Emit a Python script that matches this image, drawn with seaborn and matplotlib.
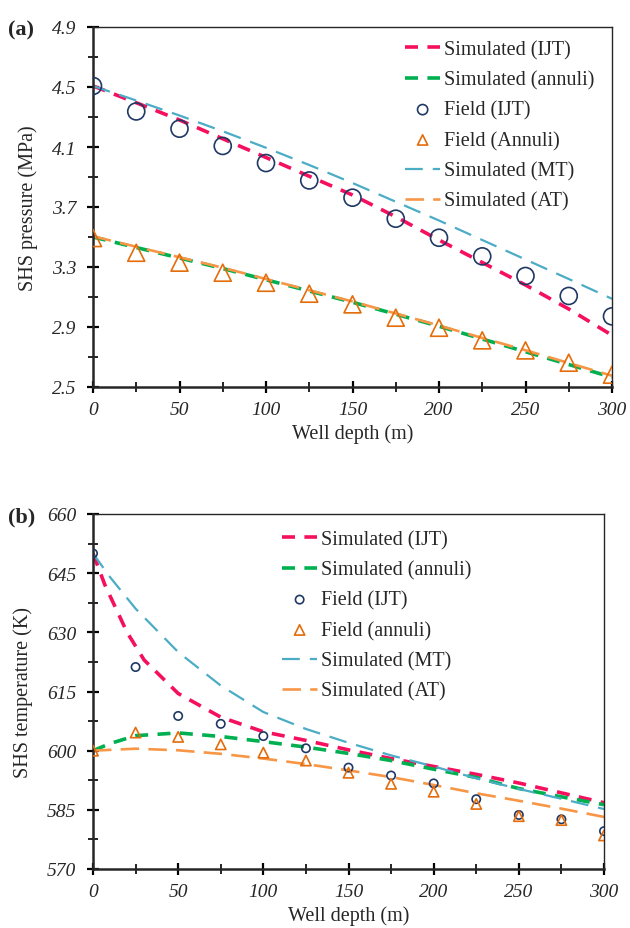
import numpy as np
import pandas as pd
import matplotlib
matplotlib.use("Agg")
import matplotlib.pyplot as plt
from matplotlib.ticker import MultipleLocator, AutoMinorLocator, FormatStrFormatter
import seaborn as sns

# ---------------- data ----------------
depth = [0, 25, 50, 75, 100, 125, 150, 175, 200, 225, 250, 275, 300]

# (a) pressure, MPa
p_sim_ijt = [4.507, 4.395, 4.28, 4.155, 4.03, 3.905, 3.78, 3.635, 3.48, 3.33, 3.18, 3.02, 2.845]
p_sim_ann = [3.50, 3.43, 3.36, 3.29, 3.215, 3.14, 3.065, 2.985, 2.905, 2.82, 2.735, 2.65, 2.565]
p_field_ijt = [4.507, 4.337, 4.222, 4.107, 3.993, 3.877, 3.762, 3.622, 3.495, 3.371, 3.240, 3.107, 2.971]
p_field_ann = [3.493, 3.395, 3.329, 3.262, 3.195, 3.122, 3.051, 2.962, 2.895, 2.811, 2.744, 2.662, 2.582]
p_sim_mt = [4.507, 4.41, 4.31, 4.205, 4.095, 3.98, 3.86, 3.735, 3.61, 3.48, 3.35, 3.22, 3.088]
p_sim_at = [3.505, 3.435, 3.365, 3.295, 3.22, 3.145, 3.07, 2.99, 2.91, 2.827, 2.745, 2.66, 2.575]

# (b) temperature, K
t_depth_ijt = [0, 7, 20, 30, 50, 75, 100, 125, 150, 175, 200, 225, 250, 275, 300]
t_sim_ijt = [650, 642, 630, 623, 614.5, 608.5, 604.8, 602.6, 600.2, 598.0, 596.0, 594.0, 591.8, 589.3, 586.8]
t_depth_mt = [0, 10, 25, 50, 75, 100, 125, 150, 175, 200, 225, 250, 275, 300]
t_sim_mt = [650, 644, 636, 625, 616.5, 609.8, 605.5, 602.0, 598.8, 596.0, 593.0, 590.3, 587.8, 585.2]
t_depth_ann = [0, 10, 25, 50, 75, 100, 125, 150, 175, 200, 225, 250, 275, 300]
t_sim_ann = [600, 601.8, 603.8, 604.5, 603.6, 602.3, 600.9, 599.3, 597.5, 595.3, 593.2, 590.4, 588.3, 586.3]
t_sim_at = [600, 600.5, 600.1, 599.2, 598.0, 596.6, 595.0, 593.3, 591.3, 589.2, 587.3, 585.3, 583.2]
t_field_ijt = [650, 621.2, 608.8, 606.8, 603.7, 600.6, 595.7, 593.7, 591.7, 587.7, 583.7, 582.6, 579.6]
t_field_ann = [600, 604.6, 603.5, 601.6, 599.5, 597.5, 594.4, 591.6, 589.6, 586.5, 583.4, 582.4, 578.5]

x_ticks = [0, 50, 100, 150, 200, 250, 300]
p_ticks = [2.5, 2.9, 3.3, 3.7, 4.1, 4.5, 4.9]
t_ticks = [570, 585, 600, 615, 630, 645, 660]

labels_a = ["Simulated (IJT)", "Simulated (annuli)", "Field (IJT)", "Field (Annuli)",
            "Simulated (MT)", "Simulated (AT)"]
labels_b = ["Simulated (IJT)", "Simulated (annuli)", "Field (IJT)", "Field (annuli)",
            "Simulated (MT)", "Simulated (AT)"]

# ---------------- style ----------------
sns.set_style("ticks")
plt.rcParams["font.family"] = ["Liberation Serif", "DejaVu Serif"]
plt.rcParams["mathtext.fontset"] = "stix"

C_IJT = "#F5105F"
C_ANN = "#00B050"
C_FIJT = "#1F3864"
C_FANN = "#E46C0A"
C_MT = "#4BACC6"
C_AT = "#F79646"

W, H = 630, 929
fig = plt.figure(figsize=(W / 100, H / 100), dpi=100)

def px_axes(l, t, r, b):
    return fig.add_axes([l / W, 1 - b / H, (r - l) / W, (b - t) / H])

ax_a = px_axes(93, 28, 612, 388)
ax_b = px_axes(93, 515, 604, 870)

def style_axes(ax, ylim, yticks, ylabel):
    ax.set_xlim(0, 300)
    ax.set_ylim(*ylim)
    ax.set_xticks(x_ticks)
    ax.set_yticks(yticks)
    ax.xaxis.set_minor_locator(AutoMinorLocator(2))
    ax.yaxis.set_minor_locator(AutoMinorLocator(2))
    for side in ["left", "bottom"]:
        ax.spines[side].set_linewidth(1.8)
    for side in ["top", "right"]:
        ax.spines[side].set_linewidth(1.0)
        ax.spines[side].set_visible(True)
    ax.tick_params(which="major", direction="inout", length=8, width=1.6,
                   labelsize=14, pad=6, color="black")
    ax.tick_params(which="minor", direction="inout", length=7, width=1.2, color="black")
    ax.tick_params(axis="y", which="major", pad=8)
    for lab in ax.get_xticklabels() + ax.get_yticklabels():
        lab.set_fontstyle("italic")
    ax.set_xlabel("Well depth (m)", fontsize=14.5, labelpad=4)
    ax.set_ylabel(ylabel, fontsize=14.5, labelpad=10)

# ---------------- panel (a) ----------------
ax = ax_a
sns.lineplot(x=depth, y=p_sim_ijt, ax=ax, color=C_IJT, lw=2.6,
             linestyle=(0, (3.6, 2.6)), label=labels_a[0])
sns.lineplot(x=depth, y=p_sim_ann, ax=ax, color=C_ANN, lw=2.6,
             linestyle=(0, (3.6, 2.6)), label=labels_a[1])
sns.scatterplot(x=depth, y=p_field_ijt, ax=ax, marker="o", s=150, facecolor="none",
                edgecolor=C_FIJT, linewidth=1.2, label=labels_a[2], zorder=5)
sns.scatterplot(x=depth, y=p_field_ann, ax=ax, marker="^", s=150, facecolor="none",
                edgecolor=C_FANN, linewidth=1.2, label=labels_a[3], zorder=5)
sns.lineplot(x=depth, y=p_sim_mt, ax=ax, color=C_MT, lw=1.6,
             linestyle=(0, (8, 4.5)), label=labels_a[4])
sns.lineplot(x=depth, y=p_sim_at, ax=ax, color=C_AT, lw=1.9,
             linestyle=(0, (7, 3.5)), label=labels_a[5])
style_axes(ax, (2.5, 4.9), p_ticks, "SHS pressure (MPa)")
ax.yaxis.set_major_formatter(FormatStrFormatter("%.1f"))
for lab in ax.get_yticklabels():
    lab.set_fontstyle("italic")
ax.legend(loc="upper left", bbox_to_anchor=(405 / W, 1 - 41 / H), bbox_transform=fig.transFigure,
          frameon=False, fontsize=14.5, handlelength=1.75, handletextpad=0.2,
          labelspacing=0.55, borderpad=0, borderaxespad=0, markerscale=0.6)
fig.text(8 / W, 1 - 30 / H, "(a)", fontsize=16, fontweight="bold", va="center", ha="left")

# ---------------- panel (b) ----------------
ax = ax_b
sns.lineplot(x=t_depth_ijt, y=t_sim_ijt, ax=ax, color=C_IJT, lw=2.6,
             linestyle=(0, (3.6, 2.6)), label=labels_b[0])
sns.lineplot(x=t_depth_ann, y=t_sim_ann, ax=ax, color=C_ANN, lw=2.6,
             linestyle=(0, (3.6, 2.6)), label=labels_b[1])
sns.scatterplot(x=depth, y=t_field_ijt, ax=ax, marker="o", s=36, facecolor="none",
                edgecolor=C_FIJT, linewidth=1.2, label=labels_b[2], zorder=5)
sns.scatterplot(x=depth, y=t_field_ann, ax=ax, marker="^", s=55, facecolor="none",
                edgecolor=C_FANN, linewidth=1.2, label=labels_b[3], zorder=5)
sns.lineplot(x=t_depth_mt, y=t_sim_mt, ax=ax, color=C_MT, lw=1.6,
             linestyle=(0, (8, 4.5)), label=labels_b[4])
sns.lineplot(x=depth, y=t_sim_at, ax=ax, color=C_AT, lw=1.9,
             linestyle=(0, (7, 3.5)), label=labels_b[5])
style_axes(ax, (570, 660), t_ticks, "SHS temperature (K)")
ax.legend(loc="upper left", bbox_to_anchor=(282 / W, 1 - 531 / H), bbox_transform=fig.transFigure,
          frameon=False, fontsize=14.5, handlelength=1.75, handletextpad=0.2,
          labelspacing=0.55, borderpad=0, borderaxespad=0, markerscale=1.0)
fig.text(8 / W, 1 - 517 / H, "(b)", fontsize=16, fontweight="bold", va="center", ha="left")

fig.savefig("out.png", dpi=100)
